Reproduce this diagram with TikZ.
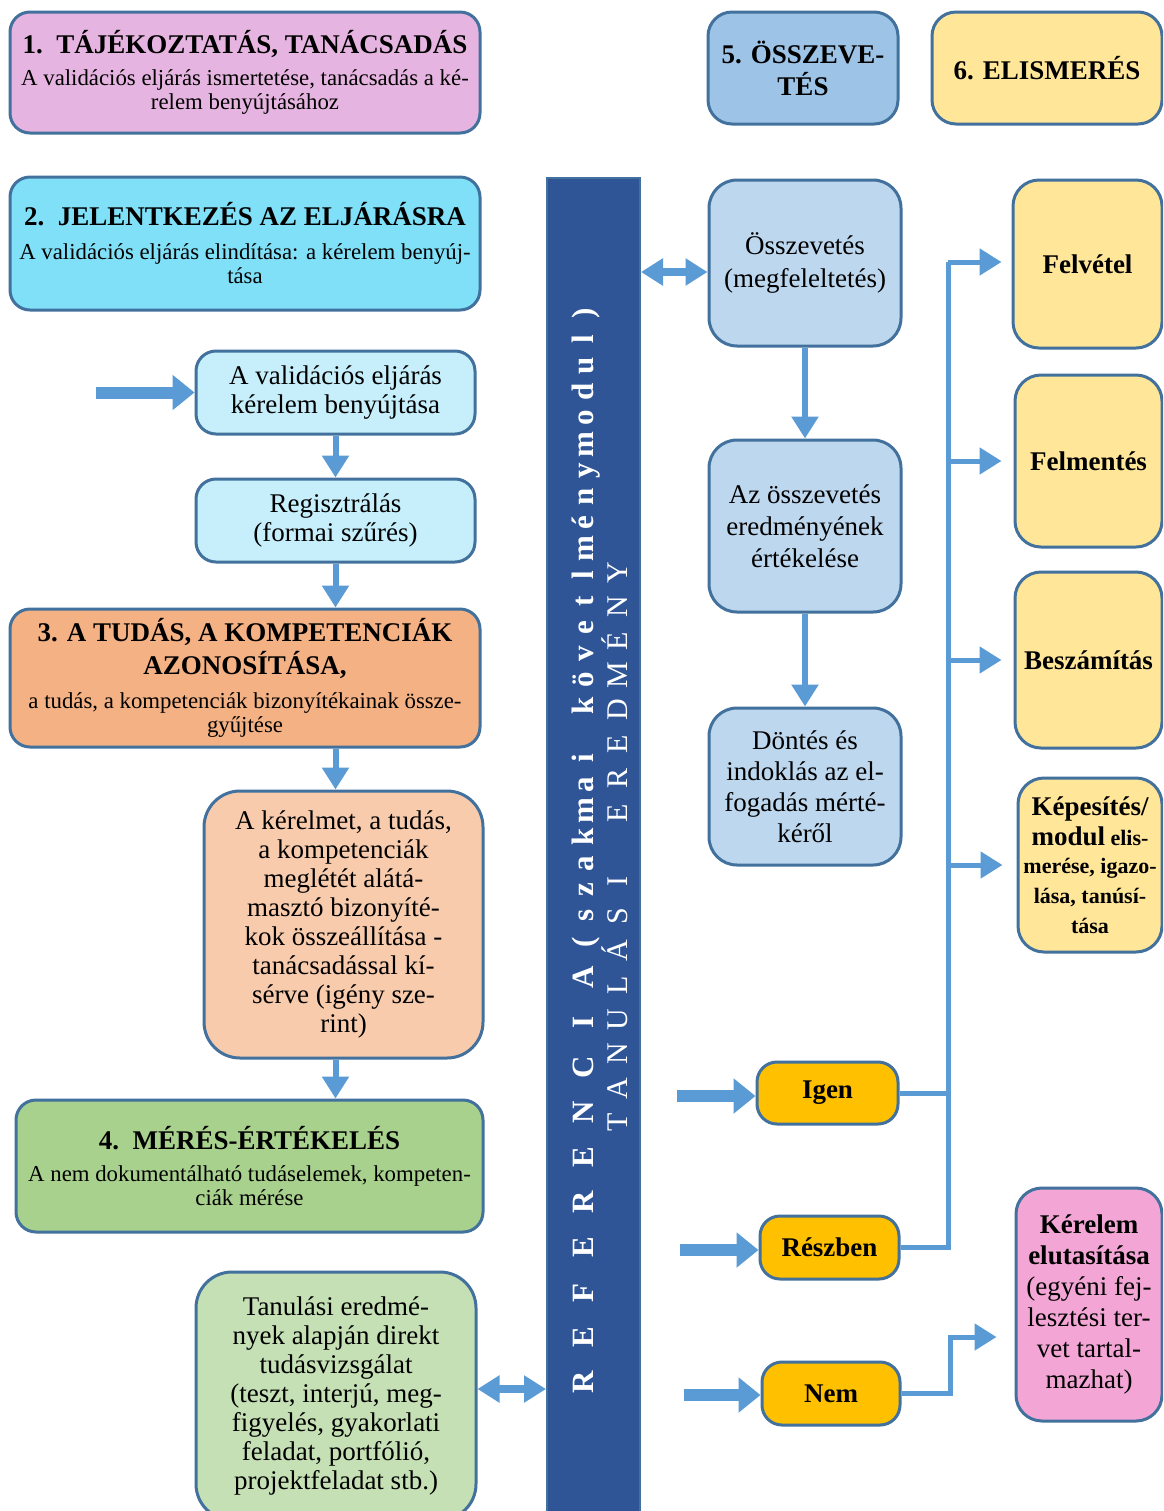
\documentclass[tikz,border=0pt]{standalone}
\usepackage{fontspec}
\setmainfont{Liberation Serif}
\usetikzlibrary{arrows.meta,calc}
\definecolor{bordc}{HTML}{41719C}
\definecolor{pinkA}{HTML}{E6B4E0}
\definecolor{cyanA}{HTML}{80E0F8}
\definecolor{cyanB}{HTML}{C6EFFB}
\definecolor{orangeA}{HTML}{F4B183}
\definecolor{peachA}{HTML}{F8CBAD}
\definecolor{greenA}{HTML}{A9D18E}
\definecolor{greenB}{HTML}{C5E0B4}
\definecolor{blueA}{HTML}{9DC3E6}
\definecolor{blueB}{HTML}{BDD7EE}
\definecolor{yelA}{HTML}{FFE699}
\definecolor{goldA}{HTML}{FFC000}
\definecolor{pinkB}{HTML}{F3A6D6}
\definecolor{barc}{HTML}{2F5597}
\definecolor{arrc}{HTML}{5B9BD5}
\newcommand\ttlfont{\fontsize{13.5}{14}\selectfont\bfseries}
\newcommand\subfont{\fontsize{11.4}{12}\selectfont}
\newcommand\kepbig{\fontsize{13.5}{14}\selectfont\bfseries}
\newcommand\kepsmall{\fontsize{11}{12}\selectfont\bfseries}
\newcommand\cslot[1]{\makebox[22.5pt]{#1}}
\newcommand\lslot[1]{\makebox[13.1pt]{#1}}
\newcommand\mslot[1]{\makebox[17.2pt]{#1}}
\begin{document}
\begin{tikzpicture}[x=0.5pt,y=-0.5pt,
  box/.style={draw=bordc, line width=1.5pt, rounded corners=10pt, inner sep=0pt, align=center},
  sect/.style={box, font=\subfont},
  inner/.style={box, rounded corners=14pt, font=\fontsize{13.5}{14.5}\selectfont},
  rbox/.style={box, rounded corners=14pt, font=\fontsize{13.5}{16}\selectfont},
  ybox/.style={box, rounded corners=13pt, fill=yelA, font=\fontsize{13.5}{14}\selectfont\bfseries},
  gbox/.style={box, fill=goldA, font=\fontsize{13.5}{14}\selectfont\bfseries},
  con/.style={draw=arrc, line width=3pt, -{Triangle[length=11pt,width=13pt]}},
  fatarrow/.style={draw=arrc, line width=6pt, -{Triangle[length=11pt,width=17pt]}},
  dbl/.style={draw=arrc, line width=4pt, {Triangle[length=11pt,width=13pt]}-{Triangle[length=11pt,width=13pt]}},
  branch/.style={draw=arrc, line width=2.5pt, -{Triangle[length=11pt,width=13pt]}},
  trunk/.style={draw=arrc, line width=2.5pt}
]
\useasboundingbox (0,0) rectangle (1163,1511);
\fill[white] (0,0) rectangle (1163,1511);
\clip (0,0) rectangle (1163,1511);

% left column
\node[sect, fill=pinkA, minimum width=235pt, minimum height=60.5pt] (b1) at (245,72.5)
  {{\ttlfont 1.\ \ TÁJÉKOZTATÁS, TANÁCSADÁS}\\[4pt]
   A validációs eljárás ismertetése, tanácsadás a ké-\\
   relem benyújtásához};
\node[sect, fill=cyanA, minimum width=235pt, minimum height=66.5pt] (b2) at (245,243.5)
  {{\ttlfont 2.\ \ JELENTKEZÉS AZ ELJÁRÁSRA}\\[5pt]
   A validációs eljárás elindítása: a kérelem benyúj-\\
   tása};
\node[inner, rounded corners=10pt, fill=cyanB, minimum width=139.5pt, minimum height=41.5pt] (v1) at (335.5,392.5)
  {A validációs eljárás\\kérelem benyújtása};
\node[inner, rounded corners=10pt, fill=cyanB, minimum width=139.5pt, minimum height=41.5pt] (reg) at (335.5,520.5)
  {Regisztrálás\\(formai szűrés)};
\node[sect, fill=orangeA, minimum width=235pt, minimum height=69pt] (b3) at (245,678)
  {{\ttlfont 3. A TUDÁS, A KOMPETENCIÁK}\\[2pt]
   {\ttlfont AZONOSÍTÁSA,}\\[5pt]
   a tudás, a kompetenciák bizonyítékainak össze-\\
   gyűjtése};
\node[inner, rounded corners=18pt, fill=peachA, minimum width=139.5pt, minimum height=133.5pt] (ker) at (343.5,924.5)
  {A kérelmet, a tudás,\\a kompetenciák\\meglétét alátá-\\masztó bizonyíté-\\kok összeállítása -\\tanácsadással kí-\\sérve (igény sze-\\rint)};
\node[sect, fill=greenA, minimum width=233.5pt, minimum height=66pt] (b4) at (249.5,1166)
  {{\ttlfont 4.\ \ MÉRÉS-ÉRTÉKELÉS}\\[4pt]
   A nem dokumentálható tudáselemek, kompeten-\\
   ciák mérése};
\node[inner, rounded corners=18pt, fill=greenB, minimum width=140pt, minimum height=124pt] (tan) at (336,1396)
  {Tanulási eredmé-\\nyek alapján direkt\\tudásvizsgálat\\(teszt, interjú, meg-\\figyelés, gyakorlati\\feladat, portfólió,\\projektfeladat stb.)};

% central bar
\node[draw=bordc, line width=1pt, fill=barc, minimum width=46.5pt, minimum height=676pt, inner sep=0pt] (bar) at (593.5,854) {};
\node[rotate=90, anchor=base, text=white, font=\fontsize{15.5}{16}\selectfont\bfseries, inner sep=0pt] (bt1) at (593,852.5)
  {\cslot R\cslot E\cslot F\cslot E\cslot R\cslot E\cslot N\cslot C\cslot I\cslot A\lslot(\lslot s\lslot z\lslot a\lslot k\lslot m\lslot a\lslot i\lslot{}\lslot k\lslot ö\lslot v\lslot e\lslot t\lslot l\lslot m\lslot é\lslot n\lslot y\lslot m\lslot o\lslot d\lslot u\lslot l\lslot)};
\node[rotate=90, anchor=base, text=white, font=\fontsize{15}{16}\selectfont, inner sep=0pt] (bt2) at (627,847.5)
  {\mslot T\mslot A\mslot N\mslot U\mslot L\mslot Á\mslot S\mslot I\mslot{}\mslot E\mslot R\mslot E\mslot D\mslot M\mslot É\mslot N\mslot Y};

% right part
\node[rbox, rounded corners=12pt, fill=blueA, font=\fontsize{13.5}{16}\selectfont\bfseries, minimum width=95pt, minimum height=56pt] (b5) at (803,68)
  {5. ÖSSZEVE-\\TÉS};
\node[ybox, rounded corners=12pt, minimum width=115pt, minimum height=56pt] (b6) at (1047,68) {6. ELISMERÉS};
\node[rbox, fill=blueB, minimum width=96pt, minimum height=83pt, font=\fontsize{13.5}{16.5}\selectfont] (oss) at (805,263)
  {Összevetés\\(megfeleltetés)};
\node[rbox, fill=blueB, minimum width=96pt, minimum height=86pt] (az) at (805,526)
  {Az összevetés\\eredményének\\értékelése};
\node[rbox, fill=blueB, minimum width=96pt, minimum height=78.5pt, font=\fontsize{13.5}{15.5}\selectfont] (don) at (805,786.5)
  {Döntés és\\indoklás az el-\\fogadás mérté-\\kéről};
\node[ybox, minimum width=74.5pt, minimum height=84pt] (fel) at (1087.5,264) {Felvétel};
\node[ybox, minimum width=73.5pt, minimum height=86pt] (fm) at (1088.5,461) {Felmentés};
\node[ybox, minimum width=73.5pt, minimum height=88pt] (besz) at (1088.5,660) {Beszámítás};
\node[ybox, minimum width=72pt, minimum height=87pt] (kep) at (1090,865)
  {{\kepbig Képesítés/}\\[1pt]{\kepbig modul}{\kepsmall\ elis-}\\{\kepsmall merése, igazo-}\\[1pt]{\kepsmall lása, tanúsí-}\\[1pt]{\kepsmall tása}};
\node[box, rounded corners=13pt, fill=pinkB, minimum width=73pt, minimum height=116.5pt, font=\fontsize{13.5}{15.5}\selectfont] (elu) at (1089,1304.5)
  {{\bfseries Kérelem}\\{\bfseries elutasítása}\\(egyéni fej-\\lesztési ter-\\vet tartal-\\mazhat)};
\node[gbox, minimum width=70.5pt, minimum height=31pt] (igen) at (827.5,1093) {Igen};
\node[gbox, minimum width=69.5pt, minimum height=31.5pt] (resz) at (829.5,1247.5) {Részben};
\node[gbox, minimum width=69pt, minimum height=31.5pt] (nem) at (831,1393.5) {Nem};

% coordinates
\coordinate (in1) at (96,392.5);
\coordinate (ya) at (0,272);
\coordinate (yb) at (0,1389);
\coordinate (tk) at (948,262);
\coordinate (nk) at (950,1337);
\coordinate (ai) at (677,1096);
\coordinate (ar) at (680,1250);
\coordinate (an) at (684,1395);

% left connectors
\draw[fatarrow] (in1) -- (v1.west);
\draw[con] (v1.south) -- (reg.north);
\draw[con] (reg.south) -- (reg.south |- b3.north);
\draw[con] (reg.south |- b3.south) -- (reg.south |- ker.north);
\draw[con] (reg.south |- ker.south) -- (reg.south |- b4.north);
\draw[dbl] (tan.east |- yb) -- (bar.west |- yb);
\draw[dbl] (bar.east |- ya) -- (oss.west |- ya);

% right connectors
\draw[con] (oss.south) -- (az.north);
\draw[con] (az.south) -- (don.north);
\draw[trunk] (resz.east) -| (tk);
\draw[trunk] (igen.east) -- (igen.east -| tk);
\draw[branch, shorten >=5pt] (tk) -- (tk -| fel.west);
\draw[branch, shorten >=6pt] (tk |- fm.west) -- (fm.west);
\draw[branch, shorten >=6pt] (tk |- besz.west) -- (besz.west);
\draw[branch, shorten >=7pt] (tk |- kep.west) -- (kep.west);
\draw[branch, shorten >=9pt] (nem.east) -| (nk) -- (nk -| elu.west);
\draw[fatarrow] (ai) -- (igen.west |- ai);
\draw[fatarrow] (ar) -- (resz.west |- ar);
\draw[fatarrow] (an) -- (nem.west |- an);
\end{tikzpicture}
\end{document}
